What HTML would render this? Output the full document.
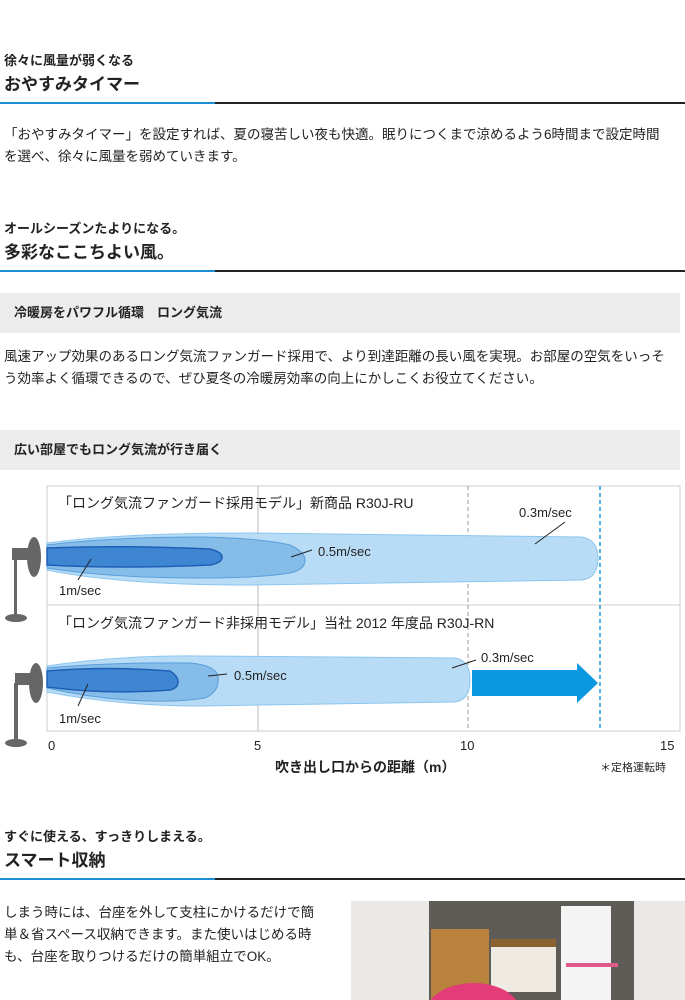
<!DOCTYPE html>
<html><head><meta charset="utf-8"><style>
body{margin:0;width:685px;height:1000px;background:#fff;font-family:"Liberation Sans","Noto Sans CJK JP",sans-serif;color:#222;position:relative;overflow:hidden}
.a{position:absolute;white-space:nowrap}
.sub{font-size:13px;font-weight:bold}
.ttl{font-size:17px;font-weight:bold}
.line{position:absolute;height:2px;background:#222;left:215px;right:0}
.bl{position:absolute;height:2px;background:#1a8fd6;left:0;width:215px}
.p{font-size:13.5px;line-height:22px}
.bar{position:absolute;left:0;width:680px;height:40px;background:#ececec;font-size:13px;font-weight:bold;line-height:40px;text-indent:14px}
</style></head><body>
<div class="a sub" style="left:4px;top:50px">徐々に風量が弱くなる</div>
<div class="a ttl" style="left:4px;top:70px">おやすみタイマー</div>
<div class="bl" style="top:102px"></div><div class="line" style="top:102px"></div>
<div class="a p" style="left:4px;top:124px;white-space:normal;width:668px">「おやすみタイマー」を設定すれば、夏の寝苦しい夜も快適。眠りにつくまで涼めるよう6時間まで設定時間を選べ、徐々に風量を弱めていきます。</div>

<div class="a sub" style="left:4px;top:218px">オールシーズンたよりになる。</div>
<div class="a ttl" style="left:4px;top:238px">多彩なここちよい風。</div>
<div class="bl" style="top:270px"></div><div class="line" style="top:270px"></div>
<div class="bar" style="top:293px">冷暖房をパワフル循環　ロング気流</div>
<div class="a p" style="left:4px;top:346px;white-space:normal;width:664px">風速アップ効果のあるロング気流ファンガード採用で、より到達距離の長い風を実現。お部屋の空気をいっそう効率よく循環できるので、ぜひ夏冬の冷暖房効率の向上にかしこくお役立てください。</div>
<div class="bar" style="top:430px">広い部屋でもロング気流が行き届く</div>

<svg class="a" style="left:0;top:480px" width="685" height="300" viewBox="0 480 685 300">
<rect x="47" y="486" width="633" height="245" fill="#fff" stroke="#ccc"/>
<line x1="47" y1="605" x2="680" y2="605" stroke="#ccc"/>
<line x1="258" y1="486" x2="258" y2="731" stroke="#bbb"/>
<line x1="468" y1="486" x2="468" y2="731" stroke="#999" stroke-dasharray="4,3"/>
<line x1="600" y1="486" x2="600" y2="731" stroke="#1a9be0" stroke-width="1.5" stroke-dasharray="4,3"/>
<path d="M47,543 Q120,533 250,533 L582,537 Q598,540 598,558 Q598,578 582,580 L250,585 Q120,585 47,570 Z" fill="#b8dcf5" stroke="#8cc6ee"/>
<path d="M47,545 Q110,537 200,537 Q260,538 290,545 Q305,552 305,560 Q305,570 290,573 Q260,578 200,578 Q110,578 47,568 Z" fill="#86bce8" stroke="#5a9fdc"/>
<path d="M47,548 Q120,545 210,549 Q222,552 222,557 Q222,563 210,565 Q120,569 47,565 Z" fill="#3f86d2" stroke="#1f5fb5" stroke-width="1.5"/>
<path d="M47,666 Q120,655 200,656 L455,658 Q470,660 470,680 Q470,700 455,702 L200,706 Q120,706 47,692 Z" fill="#b8dcf5" stroke="#8cc6ee"/>
<path d="M47,668 Q110,662 190,663 Q215,665 218,676 Q220,692 205,698 Q180,702 150,701 Q100,700 47,688 Z" fill="#86bce8" stroke="#5a9fdc"/>
<path d="M47,671 Q110,666 170,671 Q178,676 178,682 Q178,688 170,690 Q110,695 47,687 Z" fill="#3f86d2" stroke="#1f5fb5" stroke-width="1.5"/>
<polygon points="472,670 577,670 577,663 598,683 577,703 577,696 472,696" fill="#0a99e0"/>
<g fill="#666"><rect x="12" y="548" width="20" height="12"/><ellipse cx="34" cy="557" rx="7" ry="20"/><rect x="14" y="558" width="3" height="58"/><ellipse cx="16" cy="618" rx="11" ry="4"/>
<rect x="15" y="673" width="20" height="12"/><ellipse cx="36" cy="683" rx="7" ry="20"/><rect x="14" y="683" width="4" height="58"/><ellipse cx="16" cy="743" rx="11" ry="4"/></g>
<g stroke="#222" stroke-width="1"><line x1="78" y1="580" x2="91" y2="559"/><line x1="291" y1="557" x2="312" y2="550"/><line x1="535" y1="544" x2="565" y2="522"/><line x1="78" y1="706" x2="88" y2="684"/><line x1="208" y1="676" x2="227" y2="674"/><line x1="452" y1="668" x2="476" y2="660"/></g>
<g font-family="Liberation Sans,Noto Sans CJK JP,sans-serif" font-size="13" fill="#222">
<text x="58" y="508" font-size="14">「ロング気流ファンガード採用モデル」新商品 R30J-RU</text>
<text x="58" y="628" font-size="14">「ロング気流ファンガード非採用モデル」当社 2012 年度品 R30J-RN</text>
<text x="59" y="595">1m/sec</text><text x="318" y="556">0.5m/sec</text><text x="519" y="517">0.3m/sec</text>
<text x="59" y="723">1m/sec</text><text x="234" y="680">0.5m/sec</text><text x="481" y="662">0.3m/sec</text>
<text x="48" y="750">0</text><text x="254" y="750">5</text><text x="460" y="750">10</text><text x="660" y="750">15</text>
<text x="275" y="772" font-weight="bold" font-size="14">吹き出し口からの距離（m）</text>
<text x="600" y="771" font-size="11">＊定格運転時</text></g>
</svg>

<div class="a sub" style="left:4px;top:826px">すぐに使える、すっきりしまえる。</div>
<div class="a ttl" style="left:4px;top:846px">スマート収納</div>
<div class="bl" style="top:878px"></div><div class="line" style="top:878px"></div>
<div class="a p" style="left:4px;top:902px;white-space:normal;width:322px">しまう時には、台座を外して支柱にかけるだけで簡単＆省スペース収納できます。また使いはじめる時も、台座を取りつけるだけの簡単組立でOK。</div>
<div class="a" style="left:351px;top:901px;width:334px;height:99px;background:#ebe9e6;overflow:hidden">
<div class="a" style="left:78px;top:0;width:205px;height:99px;background:#5f5b57"></div>
<div class="a" style="left:80px;top:28px;width:58px;height:71px;background:#b9823d"></div>
<div class="a" style="left:140px;top:38px;width:65px;height:45px;background:#f0ebe2;border-top:8px solid #8b6330"></div>
<div class="a" style="left:210px;top:5px;width:50px;height:94px;background:#f4f4f4"></div>
<div class="a" style="left:215px;top:62px;width:52px;height:4px;background:#e05a8c"></div>
<div class="a" style="left:75px;top:82px;width:95px;height:60px;border-radius:50%;background:#e23d78"></div>
</div>
</body></html>
